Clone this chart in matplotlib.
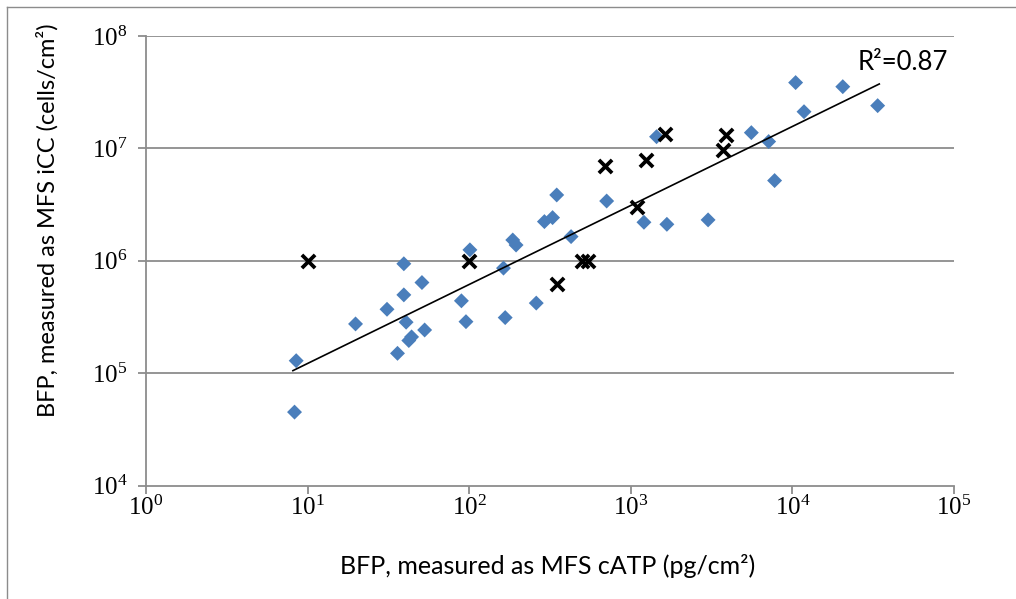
import matplotlib
matplotlib.use('Agg')
import matplotlib.pyplot as plt
from matplotlib.lines import Line2D
import numpy as np

plt.rcParams['mathtext.fontset'] = 'custom'
plt.rcParams['mathtext.rm'] = 'Liberation Serif'
plt.rcParams['mathtext.it'] = 'Liberation Serif'

# MFS cATP (pg/cm2) vs MFS iCC (cells/cm2)
catp_blue = [8.3, 8.5, 19.8, 31, 36, 39.4, 39.4, 40.7, 42.3, 44, 51, 53, 89.5, 95.5,
             101, 163, 167, 186, 195, 260, 292, 328, 348, 427, 709, 1206, 1443,
             1672, 3008, 5570, 7130, 7760, 10470, 11800, 20500, 33700]
icc_blue = [4.5e4, 1.29e5, 2.74e5, 3.7e5, 1.5e5, 4.97e5, 9.4e5, 2.84e5, 1.95e5, 2.1e5,
            6.4e5, 2.42e5, 4.4e5, 2.87e5, 1.25e6, 8.6e5, 3.12e5, 1.53e6, 1.38e6, 4.2e5,
            2.23e6, 2.42e6, 3.85e6, 1.64e6, 3.4e6, 2.2e6, 1.27e7, 2.11e6, 2.31e6,
            1.38e7, 1.15e7, 5.17e6, 3.85e7, 2.12e7, 3.54e7, 2.4e7]

catp_x = [10, 100, 348, 500, 540, 693, 1100, 1240, 1630, 3730, 3900]
icc_x = [1.0e6, 1.0e6, 6.2e5, 1.0e6, 1.0e6, 7.0e6, 3.0e6, 7.9e6, 1.33e7, 9.7e6, 1.31e7]

# power trendline: log10(y) = slope*log10(x) + intercept
trend_slope = 0.703
trend_intercept = 4.383
r2_text = 'R²=0.87'

W, H = 1016, 599
fig = plt.figure(figsize=(W / 100, H / 100), dpi=100)
ax = fig.add_axes([146 / W, 1 - 485.5 / H, (954 - 146) / W, (485.5 - 36) / H])

grid_col = '#8c8c8c'
for k in range(5, 9):
    ax.axhline(10 ** k, color=grid_col, lw=1.3, zorder=1)

ax.scatter(catp_blue, icc_blue, marker='D', s=58, color='#4a7ebb', edgecolors='none', zorder=3)
ax.scatter(catp_x, icc_x, marker='x', s=90, color='black', linewidths=2.7, zorder=4)

all_x = np.array(catp_blue + catp_x)
tx = np.logspace(np.log10(all_x.min()) - 0.01, np.log10(all_x.max()) + 0.01, 50)
ty = 10 ** (trend_slope * np.log10(tx) + trend_intercept)
ax.plot(tx, ty, color='black', lw=1.2, zorder=5)

ax.set_xscale('log')
ax.set_yscale('log')
ax.set_xlim(1, 1e5)
ax.set_ylim(1e4, 1e8)
ax.set_xticks([10 ** k for k in range(6)])
ax.set_yticks([10 ** k for k in range(4, 9)])
ax.set_xticklabels([r'$\mathrm{10^{%d}}$' % k for k in range(6)])
ax.set_yticklabels([r'$\mathrm{10^{%d}}$' % k for k in range(4, 9)])
ax.minorticks_off()
ax.tick_params(axis='both', direction='out', length=5.5, width=1.3, color=grid_col,
               labelsize=18)
ax.tick_params(axis='x', pad=2)
ax.tick_params(axis='y', pad=8)

for side in ['top', 'right']:
    ax.spines[side].set_visible(False)
for side in ['left', 'bottom']:
    ax.spines[side].set_color(grid_col)
    ax.spines[side].set_linewidth(1.3)

fig.text(548 / W, 1 - 566 / H, 'BFP, measured as MFS cATP (pg/cm²)', fontfamily='Lato',
         fontsize=18, ha='center', va='center')
fig.text(47 / W, 1 - 220 / H, 'BFP, measured as MFS iCC (cells/cm²)', fontfamily='Lato',
         fontsize=17, ha='center', va='center', rotation=90)

fig.text(858 / W, 1 - 63 / H, r2_text, fontfamily='Lato', fontsize=18.5, va='center', ha='left')

# outer chart frame (left and top edges visible)
fig.add_artist(Line2D([7 / W, 7 / W], [0, 1 - 7 / H], transform=fig.transFigure,
                      color='#8c8c8c', lw=1))
fig.add_artist(Line2D([7 / W, 1], [1 - 7 / H, 1 - 7 / H], transform=fig.transFigure,
                      color='#8c8c8c', lw=1))

fig.savefig('out.png', dpi=100)
